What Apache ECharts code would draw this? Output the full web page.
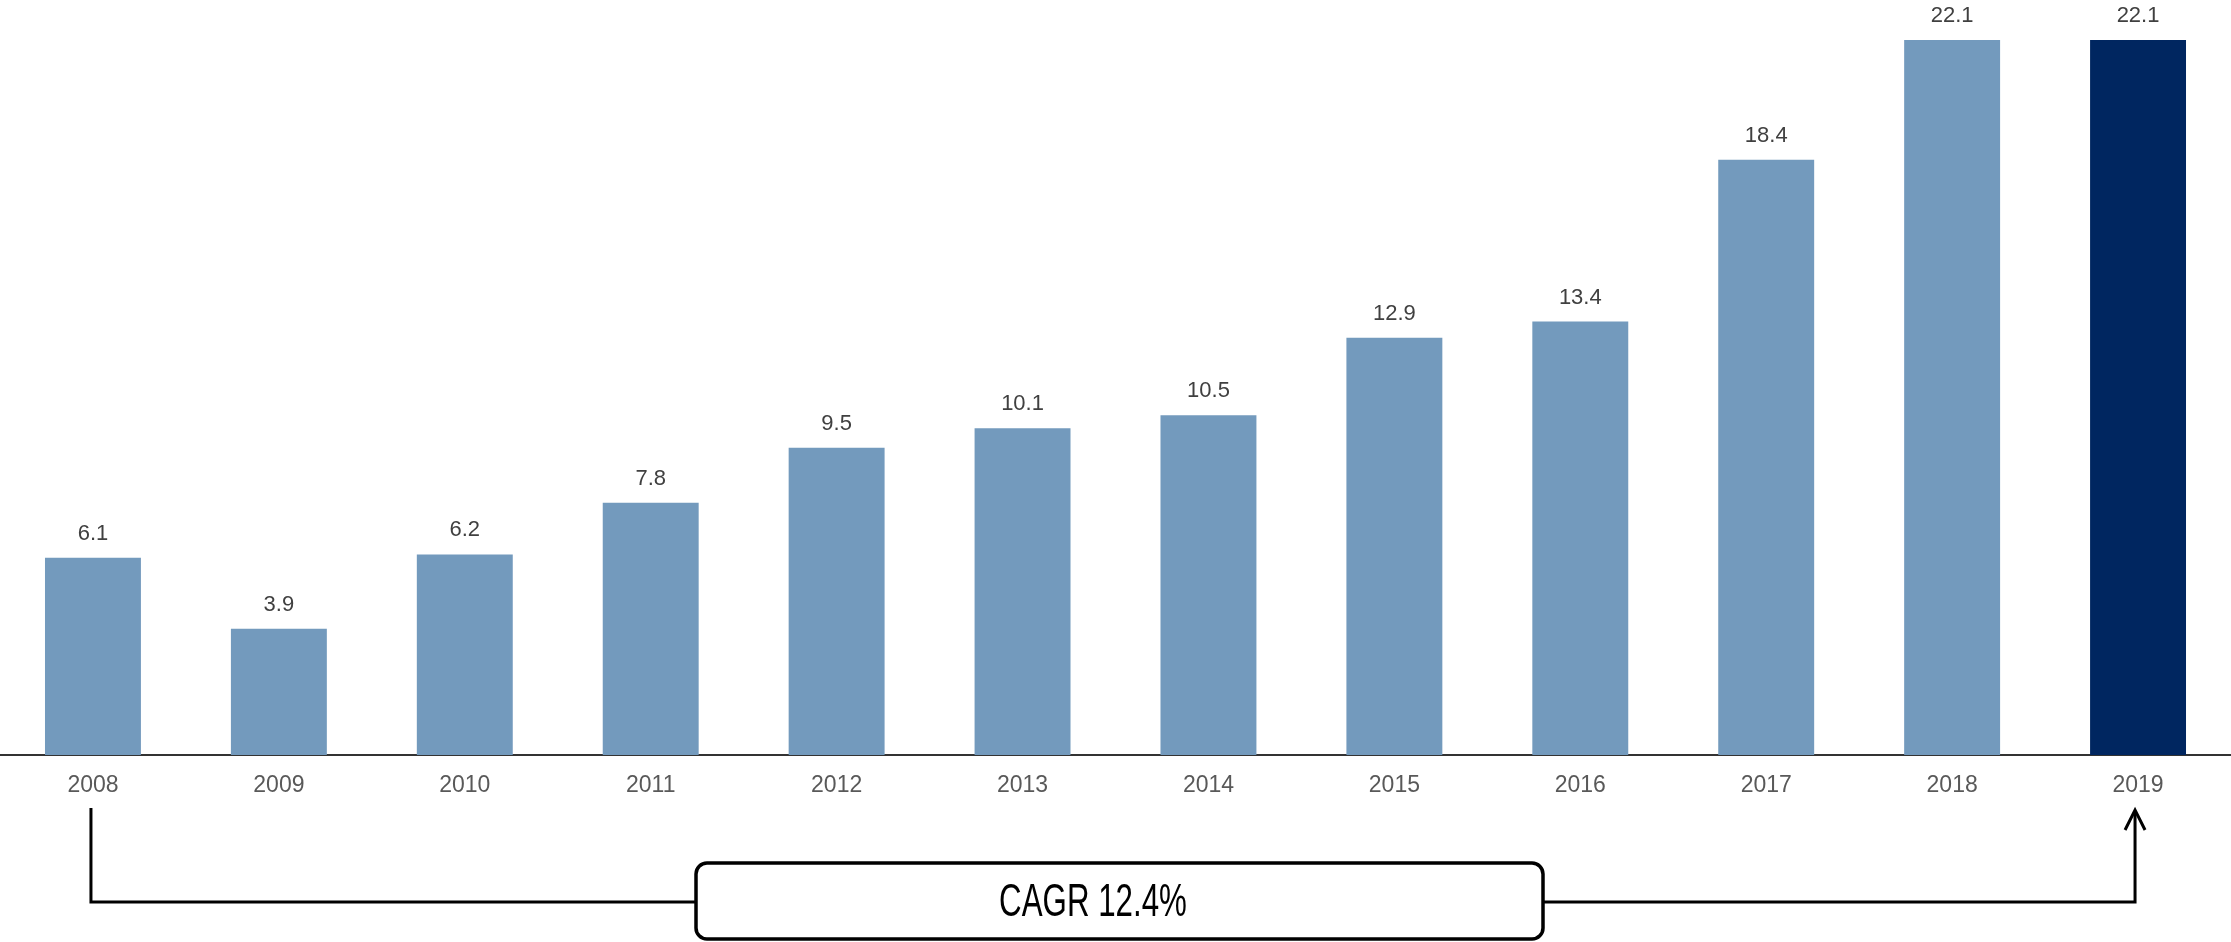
<!DOCTYPE html>
<html>
<head>
<meta charset="utf-8">
<title>CAGR bar chart</title>
<script src="https://cdn.jsdelivr.net/npm/echarts@6/dist/echarts.min.js"></script>
<style>
  html, body { margin: 0; padding: 0; background: #fff; }
  #chart { width: 2231px; height: 942px; }
</style>
</head>
<body>
<div id="chart"></div>
<script>
  // data
  var categories = ['2008', '2009', '2010', '2011', '2012', '2013', '2014', '2015', '2016', '2017', '2018', '2019']
  var values = [6.1, 3.9, 6.2, 7.8, 9.5, 10.1, 10.5, 12.9, 13.4, 18.4, 22.1, 22.1]
  var highlightIndex = 11
  var cagrText = 'CAGR 12.4%'

  var lightBlue = '#739abd'
  var darkBlue = '#002660'

  var chart = echarts.init(document.getElementById('chart'))

  var seriesData = values.map(function(v, i) {
    return {
      value: v,
      itemStyle: { color: i === highlightIndex ? darkBlue : lightBlue }
    }
  })

  chart.setOption({
    animation: false,
    textStyle: { fontFamily: '"Liberation Sans", Arial, sans-serif' },
    grid: { left: 0, right: 0, top: 40, bottom: 187 },
    xAxis: {
      type: 'category',
      data: categories,
      axisTick: { show: false },
      axisLine: { lineStyle: { color: '#333', width: 2 } },
      axisLabel: { color: '#595959', fontSize: 23, margin: 19 }
    },
    yAxis: {
      type: 'value',
      min: 0,
      max: 22.1,
      show: false,
      splitLine: { show: false }
    },
    series: [{
      type: 'bar',
      data: seriesData,
      barWidth: '51.6%',
      label: {
        show: true,
        position: 'top',
        distance: 13,
        color: '#404040',
        fontSize: 22,
        formatter: function(p) { return p.value.toFixed(1) }
      }
    }]
  })

  // CAGR bracket: anchored to first and last category
  var xStart = chart.convertToPixel({ xAxisIndex: 0 }, categories[0])
  var xEnd = chart.convertToPixel({ xAxisIndex: 0 }, categories[categories.length - 1])
  var axisY = chart.convertToPixel({ yAxisIndex: 0 }, 0)
  var lineY = axisY + 147
  var boxLeft = 696, boxRight = 1543, boxTop = 863, boxH = 76
  var lineStyle = { stroke: '#000', lineWidth: 3, fill: null }

  chart.setOption({
    graphic: [
      {
        type: 'polyline',
        shape: { points: [[xStart - 2, axisY + 53], [xStart - 2, lineY], [boxLeft, lineY]] },
        style: lineStyle
      },
      {
        type: 'polyline',
        shape: { points: [[boxRight, lineY], [xEnd - 3, lineY], [xEnd - 3, axisY + 56]] },
        style: lineStyle
      },
      {
        type: 'polyline',
        shape: { points: [[xEnd - 13, axisY + 75], [xEnd - 3, axisY + 55], [xEnd + 7, axisY + 75]] },
        style: lineStyle
      },
      {
        type: 'rect',
        shape: { x: boxLeft, y: boxTop, width: boxRight - boxLeft, height: boxH, r: 11 },
        style: { stroke: '#000', lineWidth: 3.5, fill: '#fff' }
      },
      {
        type: 'text',
        x: 1093,
        y: boxTop + boxH / 2 + 2,
        scaleX: 0.68,
        style: {
          text: cagrText,
          font: '46px "Liberation Sans", Arial, sans-serif',
          fill: '#000',
          align: 'center',
          verticalAlign: 'middle'
        }
      }
    ]
  })
</script>
</body>
</html>
